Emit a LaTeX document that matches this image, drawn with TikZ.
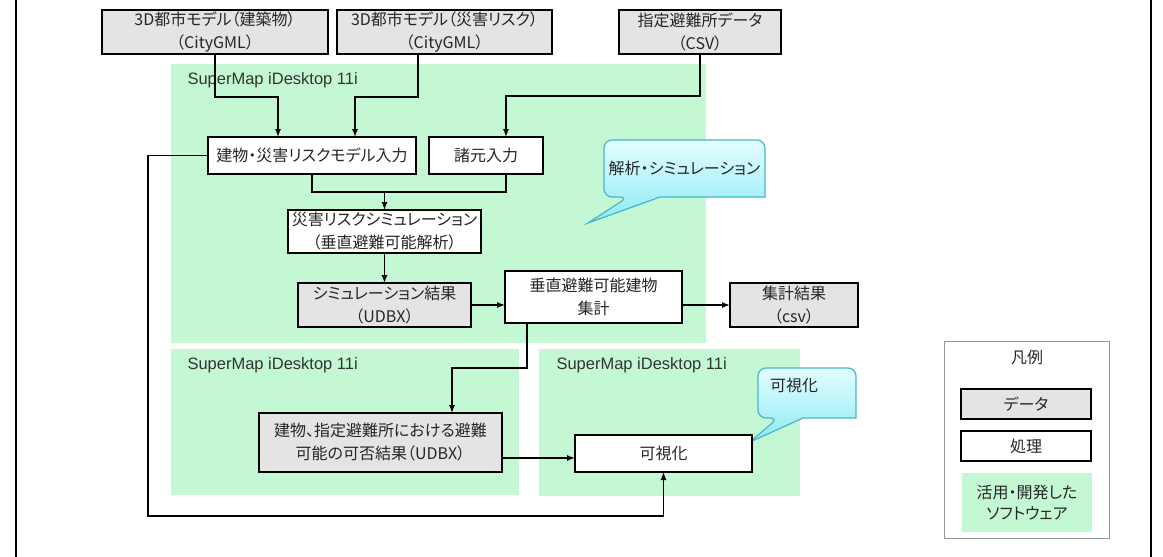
\documentclass[tikz,border=0pt]{standalone}
\usepackage{fontspec}
\setmainfont{Noto Sans CJK JP}[RawFeature=+palt]
\newfontfamily\labelfont{Liberation Sans}
\usepackage{xcolor}
\usepackage{tikz}
\usetikzlibrary{arrows.meta, positioning, calc}

\definecolor{swgreen}{RGB}{196,247,212}
\definecolor{datagray}{RGB}{228,228,228}
\definecolor{leggray}{RGB}{150,150,150}
\definecolor{callborder}{RGB}{72,182,200}
\definecolor{calltop}{RGB}{228,253,255}
\definecolor{callbottom}{RGB}{140,234,242}

\pgfdeclarelayer{bg}
\pgfdeclarelayer{mid}
\pgfsetlayers{bg,mid,main}

\begin{document}
\begin{tikzpicture}[
    x=1pt, y=-1pt,
    font=\fontsize{16}{23}\selectfont,
    box/.style={rectangle, draw, line width=1.6pt, inner sep=0pt, outer sep=0pt, align=center, text=black!85},
    databox/.style={box, fill=datagray},
    procbox/.style={box, fill=white},
    swarea/.style={rectangle, fill=swgreen, inner sep=0pt, outer sep=0pt, align=center},
    swlabel/.style={anchor=west, font=\labelfont\fontsize{16.5}{18}\selectfont, text=black!80},
    note/.style={inner sep=0pt, outer sep=0pt, align=center, text=black!85},
    noteshape/.style={draw=callborder, line width=1.2pt, top color=calltop, bottom color=callbottom},
    arrow/.style={-{Latex[length=8pt,width=6pt]}, line width=1.3pt},
    wire/.style={line width=1.3pt}
]
\useasboundingbox (0,0) rectangle (1163,557);

% Software areas (background)
\begin{pgfonlayer}{bg}
\fill[white] (0,0) rectangle (1163,557);
\node[swarea, minimum width=535pt, minimum height=279pt] (sw1) at (438.5,203.5) {};
\node[swarea, minimum width=348pt, minimum height=146pt] (sw2) at (345,422) {};
\node[swarea, minimum width=261pt, minimum height=147pt] (sw3) at (669.5,422.5) {};
\end{pgfonlayer}
\node[swlabel] (sw1label) at ([xshift=13pt,yshift=-16pt]sw1.north west) {SuperMap iDesktop 11i};
\node[swlabel] (sw2label) at ([xshift=13pt,yshift=-16pt]sw2.north west) {SuperMap iDesktop 11i};
\node[swlabel] (sw3label) at ([xshift=14pt,yshift=-16pt]sw3.north west) {SuperMap iDesktop 11i};

% Outer frame
\draw[line width=2pt] (16,0) -- (16,557);
\draw[line width=2pt] (1151,0) -- (1151,557);

% Row 0: input data
\node[databox, minimum width=226pt, minimum height=44pt] (bldg) at (215,32) {3D都市モデル（建築物）\\（CityGML）};
\node[databox, minimum width=215pt, minimum height=44pt] (risk) at (444.5,32) {3D都市モデル（災害リスク）\\（CityGML）};
\node[databox, minimum width=162pt, minimum height=44pt] (shelter) at (700,32) {指定避難所データ\\（CSV）};

% Row 1: input processing
\node[procbox, minimum width=208pt, minimum height=37pt] (modelin) at (312,155.5) {建物・災害リスクモデル入力};
\node[procbox, minimum width=114pt, minimum height=37pt] (paramin) at (486,155.5) {諸元入力};

% Row 2-3: simulation and aggregation
\node[procbox, minimum width=193pt, minimum height=43pt] (sim) at (384.5,231.5) {災害リスクシミュレーション\\（垂直避難可能解析）};
\node[databox, minimum width=173pt, minimum height=44pt] (simres) at (384.5,305) {シミュレーション結果\\（UDBX）};
\node[procbox, minimum width=177pt, minimum height=52pt] (agg) at (593.5,297) {垂直避難可能建物\\集計};
\node[databox, minimum width=128pt, minimum height=44pt] (aggres) at (794,305) {集計結果\\（csv）};

% Row 4: result and visualisation
\node[databox, minimum width=243pt, minimum height=59pt] (result) at (380.5,442.5) {建物、指定避難所における避難\\可能の可否結果（UDBX）};
\node[procbox, minimum width=177pt, minimum height=37pt] (vis) at (663.5,453.5) {可視化};

% Callouts
\node[note, minimum width=161pt, minimum height=57pt] (anal) at (684.5,168.5) {解析・シミュレーション};
\node[note, minimum width=98pt, minimum height=50pt, text width=74pt, align=left, text depth=17pt] (visnote) at (807,393) {可視化};
\coordinate (anatip) at (588,223);
\coordinate (vistip) at (750,442);
\begin{pgfonlayer}{mid}
\path[noteshape] (anal.east) [rounded corners=8pt] -- (anal.north east) -- (anal.north west) -- (anal.south west)
    -- ([xshift=24pt]anal.south west) [sharp corners] -- (anatip) -- ([xshift=56pt]anal.south west)
    -- (anal.south east) [rounded corners=8pt] -- cycle;
\path[noteshape] (visnote.east) [rounded corners=8pt] -- (visnote.north east) -- (visnote.north west) -- (visnote.south west)
    -- ([xshift=20pt]visnote.south west) [sharp corners] -- (vistip) -- ([xshift=45pt]visnote.south west)
    -- (visnote.south east) [rounded corners=8pt] -- cycle;
\end{pgfonlayer}

% Legend
\node[draw=leggray, line width=0.8pt, inner sep=0pt, minimum width=165pt, minimum height=197pt] (legend) at (1026.5,439.5) {};
\node[text=black!85] (legtitle) at (1027,357) {凡例};
\node[databox, line width=1.2pt, minimum width=130pt, minimum height=30pt] (legdata) at (1026,404) {データ};
\node[procbox, line width=1.2pt, minimum width=130pt, minimum height=30pt] (legproc) at (1026,446) {処理};
\node[swarea, text=black!85, minimum width=130pt, minimum height=59pt, font=\fontsize{16}{21}\selectfont] (legsoft) at (1027,502.5) {活用・開発した\\ソフトウェア};

% === Arrows ===
% Data -> input processing
\draw[arrow] (bldg.south) -- ++(0,43) -| ([xshift=-34pt]modelin.north);
\draw[arrow] ([xshift=-26.5pt]risk.south) -- ++(0,43) -| ([xshift=43pt]modelin.north);
\draw[arrow] (shelter.south) -- ++(0,42) -| ([xshift=20pt]paramin.north);

% Inputs -> simulation
\coordinate (merge) at (384.5,192);
\draw[wire] (modelin.south) |- (merge);
\draw[wire] ([xshift=20pt]paramin.south) |- (merge);
\draw[arrow] (merge) -- (sim.north);
\draw[arrow] (sim.south) -- (simres.north);

% Aggregation
\draw[arrow] (simres.east) -- (simres.east -| agg.west);
\draw[arrow] (simres.east -| agg.east) -- (simres.east -| aggres.west);
\draw[arrow] ([xshift=-66.5pt]agg.south) -- ++(0,45) -| ([xshift=71.5pt]result.north);

% Visualisation
\draw[arrow] ([yshift=-15.5pt]result.east) -- ([yshift=-15.5pt]result.east -| vis.west);
\coordinate (loop) at (148,516);
\draw[arrow] (modelin.west) -| (loop) -| (vis.south);
\end{tikzpicture}
\end{document}
